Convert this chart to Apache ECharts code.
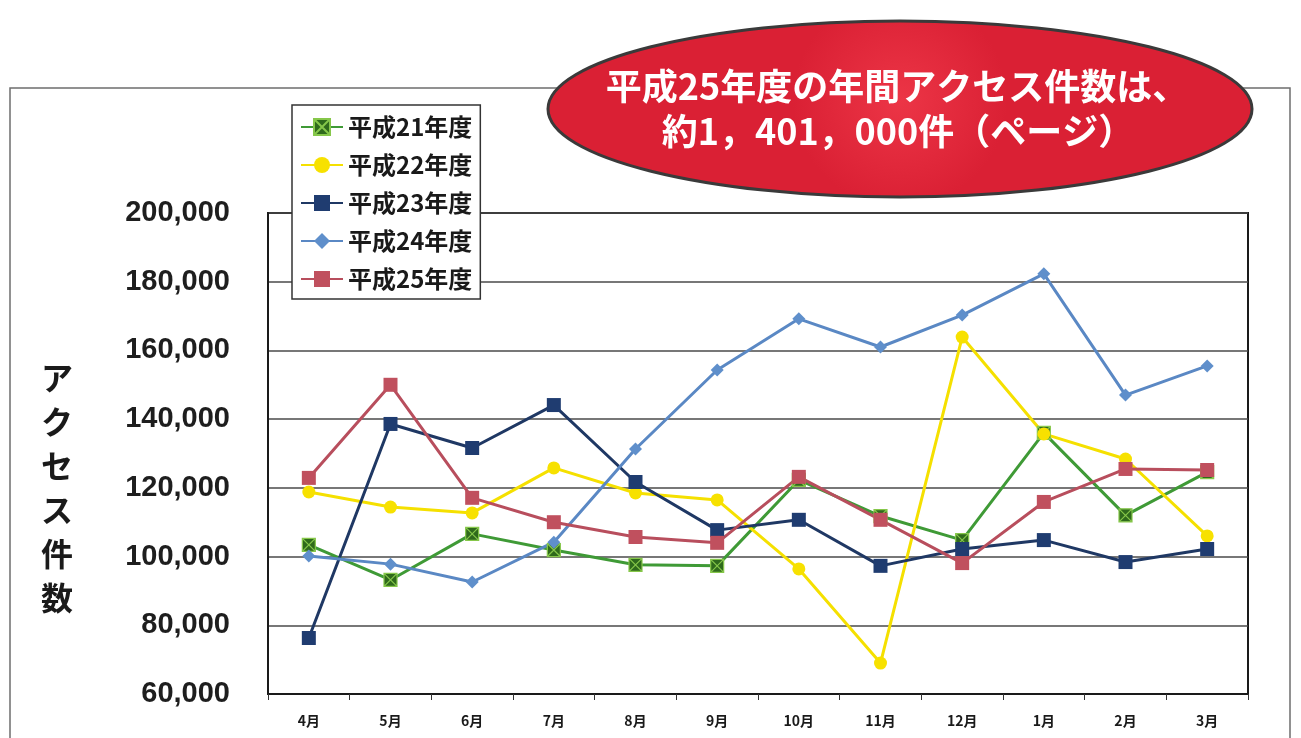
<!DOCTYPE html>
<html>
<head>
<meta charset="utf-8">
<script src="https://cdn.jsdelivr.net/npm/echarts@6/dist/echarts.min.js"></script>
<style>
  html, body { margin: 0; padding: 0; background: #fff; }
  #chart { width: 1301px; height: 738px; }
</style>
</head>
<body>
<div id="chart"></div>
<script>
// Monthly access counts (pages), fiscal years 平成21〜25
const months = ['4月', '5月', '6月', '7月', '8月', '9月', '10月', '11月', '12月', '1月', '2月', '3月'];
const h21 = [103400, 93200, 106600, 101900, 97600, 97300, 122300, 111800, 104800, 136000, 112000, 124600];
const h22 = [118800, 114400, 112700, 125800, 118500, 116500, 96400, 69000, 163900, 135700, 128400, 106000];
const h23 = [76300, 138600, 131600, 144100, 121700, 107700, 110700, 97300, 102200, 104800, 98400, 102200];
const h24 = [100200, 97800, 92600, 104200, 131300, 154300, 169200, 161000, 170300, 182300, 147000, 155500];
const h25 = [122900, 150000, 117100, 110000, 105700, 104000, 123200, 110700, 98100, 115900, 125500, 125200];
const seriesNames = ['平成21年度', '平成22年度', '平成23年度', '平成24年度', '平成25年度'];
const yTicks = [60000, 80000, 100000, 120000, 140000, 160000, 180000, 200000];

const jp = '"Noto Sans CJK JP", "Liberation Sans", sans-serif';
const num = '"Liberation Sans", Arial, sans-serif';

const chart = echarts.init(document.getElementById('chart'), null, { renderer: 'canvas' });

// square with a diagonal cross, used for the 平成21年度 markers
const crossSquare = 'path://M0,0L10,0L10,10L0,10Z M0,0L10,10 M10,0L0,10';

function lineSeries(name, data, lineColor, symbol, size, fill, border, bw) {
  return {
    name: name,
    type: 'line',
    data: data,
    symbol: symbol,
    symbolSize: size,
    showAllSymbol: true,
    lineStyle: { color: lineColor, width: 3 },
    itemStyle: { color: fill, borderColor: border, borderWidth: bw, opacity: 1 },
    emphasis: { disabled: true },
    animation: false
  };
}

const option = {
  backgroundColor: '#ffffff',
  animation: false,
  grid: {
    left: 268, right: 53, top: 213, bottom: 44,
    show: true, borderColor: '#1a1a1a', borderWidth: 2, backgroundColor: 'transparent'
  },
  xAxis: {
    type: 'category',
    data: months,
    boundaryGap: true,
    axisLine: { show: true, lineStyle: { color: '#1a1a1a', width: 2 } },
    axisTick: { show: true, inside: false, length: 6, lineStyle: { color: '#333', width: 1 } },
    axisLabel: {
      margin: 20, fontSize: 14, fontWeight: 'bold', color: '#1a1a1a', fontFamily: jp
    },
    splitLine: { show: false }
  },
  yAxis: {
    type: 'value',
    min: yTicks[0],
    max: yTicks[yTicks.length - 1],
    interval: 20000,
    axisLine: { show: true, lineStyle: { color: '#1a1a1a', width: 2 } },
    axisTick: { show: false },
    axisLabel: {
      margin: 38, fontSize: 29, fontWeight: 'bold', color: '#1e1e1e', fontFamily: num,
      formatter: v => v.toLocaleString('en-US')
    },
    splitLine: { show: true, lineStyle: { color: '#4a4a4a', width: 1.5 } }
  },
  legend: {
    data: seriesNames,
    orient: 'vertical',
    left: 292, top: 105,
    padding: [10, 8, 8, 8],
    itemGap: 14,
    itemWidth: 42, itemHeight: 20,
    backgroundColor: '#ffffff',
    borderColor: '#333', borderWidth: 1.5,
    textStyle: { fontSize: 24, fontWeight: 'bold', color: '#1a1a1a', fontFamily: jp },
    selectedMode: false,
    z: 10
  },
  graphic: [
    // outer frame
    { type: 'rect', shape: { x: 10, y: 88, width: 1280, height: 700 },
      style: { fill: 'none', stroke: '#6e6e6e', lineWidth: 1.5 }, z: -10, silent: true },
    // call-out ellipse
    { type: 'ellipse', shape: { cx: 900, cy: 109, rx: 352, ry: 88 },
      style: {
        fill: { type: 'radial', x: 0.5, y: 0.45, r: 0.6,
          colorStops: [{ offset: 0, color: '#ec3546' }, { offset: 1, color: '#da2034' }] },
        stroke: '#3a3a3a', lineWidth: 3
      }, z: 100, silent: true },
    { type: 'text', x: 897, y: 86, z: 101, silent: true,
      style: { text: '平成25年度の年間アクセス件数は、', fill: '#ffffff', font: 'bold 36px ' + jp,
        textAlign: 'center', textVerticalAlign: 'middle' } },
    { type: 'text', x: 898, y: 131, z: 101, silent: true,
      style: { text: '約1，401，000件（ページ）', fill: '#ffffff', font: 'bold 36px ' + jp,
        textAlign: 'center', textVerticalAlign: 'middle' } },
    // y-axis title, stacked vertically
    { type: 'text', x: 57, y: 488, z: 5, silent: true,
      style: { text: 'ア\nク\nセ\nス\n件\n数', fill: '#1a1a1a', font: 'bold 32px ' + jp,
        lineHeight: 44, textAlign: 'center', textVerticalAlign: 'middle' } }
  ],
  series: [
    lineSeries(seriesNames[0], h21, '#3f9a36', crossSquare, 13, '#2f6a1c', '#86c74a', 1.2),
    lineSeries(seriesNames[1], h22, '#f5e000', 'circle', 13, '#f7e100', '#f0d800', 0),
    lineSeries(seriesNames[2], h23, '#1f3864', 'rect', 14, '#1f3c70', '#1a2f55', 0),
    lineSeries(seriesNames[3], h24, '#5a88c4', 'diamond', 13, '#5f8fcb', '#4a78b0', 0),
    lineSeries(seriesNames[4], h25, '#b84e5d', 'rect', 14, '#c0505e', '#a8404e', 0)
  ]
};

chart.setOption(option);
</script>
</body>
</html>
